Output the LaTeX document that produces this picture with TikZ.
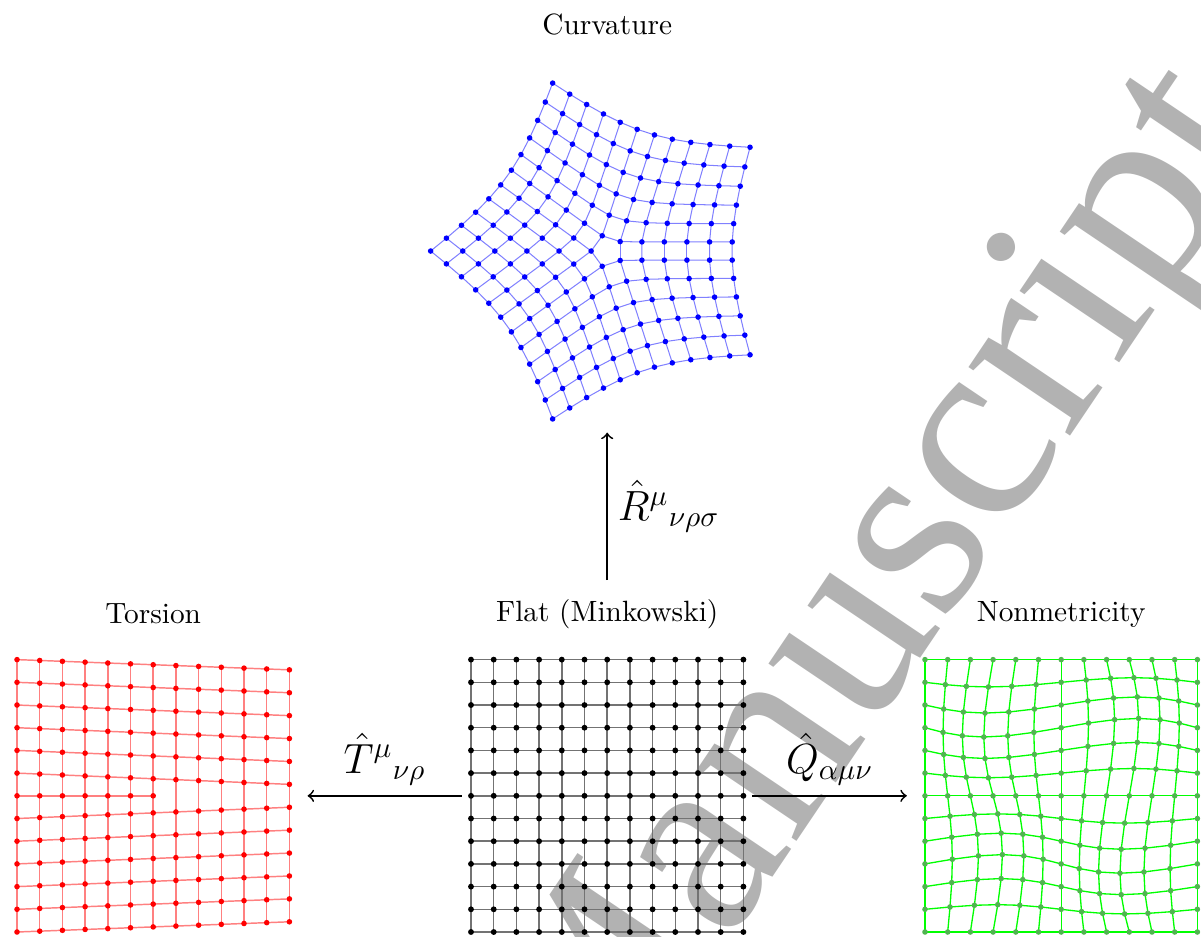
\documentclass[tikz,border=0pt]{standalone}
\usepackage{fontspec}
\newfontfamily\wmfont{Liberation Serif}
\definecolor{nmdot}{RGB}{80,180,80}

\begin{document}
\begin{tikzpicture}[x=0.272cm, y=0.272cm,
    flatline/.style={black!55, line width=0.5pt},
    torline/.style={red!50, line width=0.5pt},
    curvline/.style={blue!50, line width=0.35pt},
    nmline/.style={green, line width=0.45pt},
    arr/.style={->, line width=0.6pt},
    lab/.style={font=\normalsize}]
        \useasboundingbox (-20.75,-0.18) rectangle (32.16,41.06);

        % vodoznak
        \node[anchor=base west, rotate=56, inner sep=0, text=black!30,
              font=\wmfont\fontsize{91}{91}\selectfont] (wm) at (5.43,-9.25) {Manuscript};

        % plocha (Minkowski)
        \foreach \i in {0,...,12}
            \foreach \j in {0,...,12}
                \coordinate (f-\i-\j) at (\j,\i);
        \foreach \i in {0,...,12} {
            \draw[flatline] (f-\i-0) -- (f-\i-12);
            \draw[flatline] (f-0-\i) -- (f-12-\i);
        }
        \foreach \i in {0,...,12}
            \foreach \j in {0,...,12}
                \fill[black] (f-\i-\j) circle (1pt);

        % torze (dislokace)
        \foreach \i/\k in {0/0,1/1,2/2,3/3,4/4,5/5,7/6,8/7,9/8,10/9,11/10,12/11}
            \foreach \j in {0,...,12}
                \coordinate (t-\i-\j) at ({-20+\j},{\i+(0.45+\k*11.1/11-\i)*\j/12});
        \foreach \j in {0,...,6}
            \coordinate (t-6-\j) at ({-20+\j},6);
        \foreach \i in {0,1,2,3,4,5,7,8,9,10,11,12}
            \draw[torline] (t-\i-0) -- (t-\i-12);
        \draw[torline] (t-6-0) -- (t-6-6);
        \foreach \j in {0,...,12}
            \draw[torline] (t-0-\j) -- (t-12-\j);
        \foreach \i in {0,1,2,3,4,5,7,8,9,10,11,12}
            \foreach \j in {0,...,12}
                \fill[red] (t-\i-\j) circle (0.95pt);
        \foreach \j in {0,...,6}
            \fill[red] (t-6-\j) circle (0.95pt);

        % nemetricita
        \foreach \i in {0,...,12}
            \foreach \j in {0,...,12} {
                \pgfmathsetmacro\s{0.41*sin(30*\j)*sin(30*\i)}
                \coordinate (n-\i-\j) at ({20+\j+\s},{\i+\s});
            }
        \foreach \i in {0,...,12}
            \foreach \j [count=\jj from 1] in {0,...,11} {
                \draw[nmline] (n-\i-\j) -- (n-\i-\jj);
                \draw[nmline] (n-\j-\i) -- (n-\jj-\i);
            }
        \foreach \i in {0,...,12}
            \foreach \j in {0,...,12}
                \fill[nmdot] (n-\i-\j) circle (0.95pt);

        % krivost
        \foreach \k in {0,...,4}
            \foreach \a in {0,...,5}
                \foreach \b in {0,...,5}
                    \path (6,30) ++({0.8*atan2(\b+0.5,\a+0.5)+72*\k}:{veclen(\a+0.5,\b+0.5)})
                        coordinate (c-\k-\a-\b);
        \foreach \k in {0,...,4}
            \foreach \b in {0,...,5}
                \foreach \a [count=\aa from 1] in {0,...,4} {
                    \draw[curvline] (c-\k-\a-\b) -- (c-\k-\aa-\b);
                    \draw[curvline] (c-\k-\b-\a) -- (c-\k-\b-\aa);
                }
        \foreach \k [evaluate=\k as \kk using {int(mod(\k+4,5))}] in {0,...,4}
            \foreach \a in {0,...,5}
                \draw[curvline] (c-\k-\a-0) -- (c-\kk-0-\a);
        \foreach \k in {0,...,4}
            \foreach \a in {0,...,5}
                \foreach \b in {0,...,5}
                    \fill[blue] (c-\k-\a-\b) circle (0.95pt);

        % popisky
        \node[lab] (curv) at (6,40) {Curvature};
        \node[lab] (tors) at (-14,14) {Torsion};
        \node[lab] (flat) at (6,14) {Flat (Minkowski)};
        \node[lab] (nonm) at (26,14) {Nonmetricity};

        % sipky
        \coordinate (fw) at (-0.4,6);
        \coordinate (tw) at (-7.2,6);
        \coordinate (fe) at (12.4,6);
        \coordinate (ne) at (19.2,6);
        \coordinate (fn) at (6,15.5);
        \coordinate (cs) at (6,22);
        \draw[arr] (fw) -- (tw) node[midway, above] (tlab) {\Large $\hat{T}^{\mu}{}_{\nu\rho}$};
        \draw[arr] (fe) -- (ne) node[midway, above] (qlab) {\Large $\hat{Q}_{\alpha\mu\nu}$};
        \draw[arr] (fn) -- (cs) node[midway, right] (rlab) {\Large $\hat{R}^{\mu}{}_{\nu\rho\sigma}$};

    \end{tikzpicture}
\end{document}
